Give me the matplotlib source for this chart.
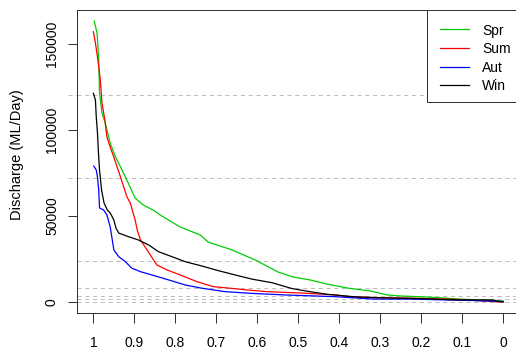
import matplotlib
matplotlib.use('Agg')
import matplotlib.pyplot as plt
from matplotlib.patches import Rectangle
from matplotlib.lines import Line2D

plt.rcParams['font.family'] = ['Liberation Sans', 'DejaVu Sans']
plt.rcParams['lines.scale_dashes'] = False

# ---------------- data ----------------
seasons = ['Spr', 'Sum', 'Aut', 'Win']
colors = ['#00CD00', '#FF0000', '#0000FF', '#000000']

spr_p = [0.998, 0.991, 0.987, 0.985, 0.979, 0.971, 0.959, 0.946, 0.930, 0.915, 0.898, 0.878, 0.854, 0.837,
         0.788, 0.739, 0.720, 0.661, 0.605, 0.549, 0.512, 0.471, 0.429, 0.380, 0.324, 0.283, 0.251, 0.185,
         0.105, 0.0]
spr_q = [163100, 156100, 140500, 121300, 109700, 103900, 92300, 84200, 76600, 69100, 60300, 56300, 53300,
         50500, 43500, 38900, 34800, 30200, 24400, 17400, 14500, 12800, 10400, 8100, 6400, 4100, 3500, 2900,
         1700, 600]

sum_p = [1.000, 0.995, 0.989, 0.983, 0.979, 0.972, 0.967, 0.959, 0.950, 0.934, 0.926, 0.918, 0.910, 0.898,
         0.893, 0.885, 0.869, 0.845, 0.820, 0.788, 0.747, 0.707, 0.666, 0.625, 0.576, 0.490, 0.410, 0.366,
         0.300, 0.234, 0.171, 0.122, 0.056, 0.015, 0.0]
sum_q = [156900, 150300, 140500, 128900, 115500, 105600, 95800, 90000, 84000, 72700, 66900, 61000, 57500,
         47600, 41800, 36000, 30200, 21500, 18600, 15700, 11800, 8900, 8000, 7000, 6000, 5200, 4100, 2900,
         2500, 2300, 1900, 1600, 750, 100, 100]

aut_p = [0.999, 0.993, 0.990, 0.987, 0.985, 0.975, 0.967, 0.959, 0.950, 0.938, 0.922, 0.906, 0.885, 0.857,
         0.816, 0.776, 0.735, 0.678, 0.613, 0.532, 0.410, 0.317, 0.227, 0.137, 0.080, 0.0]
aut_q = [78900, 76600, 72500, 65000, 54600, 53400, 50500, 43700, 30200, 26300, 23400, 19600, 17600, 15700,
         12800, 9900, 8000, 6000, 5000, 4100, 3100, 1700, 1700, 1200, 900, 300]

win_p = [1.000, 0.995, 0.993, 0.990, 0.988, 0.985, 0.980, 0.974, 0.966, 0.959, 0.950, 0.945, 0.938, 0.914,
         0.890, 0.865, 0.841, 0.808, 0.776, 0.735, 0.695, 0.654, 0.613, 0.564, 0.515, 0.471, 0.430, 0.366,
         0.308, 0.227, 0.171, 0.105, 0.024, 0.012, 0.0]
win_q = [121100, 117200, 107500, 98100, 88200, 76600, 65000, 57500, 53400, 51700, 47600, 43000, 40000,
         37900, 36000, 33100, 29200, 26300, 23400, 20900, 18200, 15700, 13300, 11200, 7800, 6000, 4500, 3100,
         2500, 2100, 1700, 1200, 1200, 400, 0]

ref_levels = [120000, 72000, 24000, 8000, 3300, 1500, 200]
ext_levels = [120000, 72000]

x_ticks = [1.0, 0.9, 0.8, 0.7, 0.6, 0.5, 0.4, 0.3, 0.2, 0.1, 0.0]
x_tick_labels = ['1', '0.9', '0.8', '0.7', '0.6', '0.5', '0.4', '0.3', '0.2', '0.1', '0']
y_ticks = [0, 50000, 100000, 150000]
y_tick_labels = ['0', '50000', '100000', '150000']
y_label = 'Discharge (ML/Day)'

# ---------------- layout ----------------
W, H, DPI = 516, 354, 100
fig = plt.figure(figsize=(W / DPI, H / DPI), dpi=DPI)


def fx(px):
    return px / W


def fy(py):
    return 1 - py / H


ax_l, ax_r, ax_t, ax_b = 77, 519.4, 10, 313
ax = fig.add_axes([fx(ax_l), fy(ax_b), fx(ax_r - ax_l), (ax_b - ax_t) / H])
ax.set_xlim(1.04, -0.04)
ax.set_ylim(-6380, 169500)

lw_px = 0.72
grey = '#BEBEBE'
for v in ref_levels:
    ax.axhline(v, color=grey, lw=lw_px, linestyle=(0, (3.0, 2.6)), zorder=1)
for v in ext_levels:
    ax.plot([1.063, 1.04], [v, v], color=grey, lw=lw_px, linestyle=(0, (3.0, 2.6)), clip_on=False, zorder=1)

series = [(spr_p, spr_q), (sum_p, sum_q), (aut_p, aut_q), (win_p, win_q)]
for (p, q), c in zip(series, colors):
    ax.plot(p, q, color=c, lw=0.9, zorder=3)

ax.set_xticks(x_ticks)
ax.set_xticklabels(x_tick_labels)
ax.set_yticks(y_ticks)
ax.set_yticklabels(y_tick_labels, rotation=90, va='center')
ax.tick_params(axis='x', length=7.2, width=0.72, pad=9.5, labelsize=10, color='#333333')
ax.tick_params(axis='y', length=6.5, width=0.72, pad=6.5, labelsize=10, color='#333333')
for s in ax.spines.values():
    s.set_linewidth(0.72)
    s.set_color('#333333')

fig.text(fx(17), fy(155), y_label, rotation=90, ha='center', va='center', fontsize=10.5)

# legend (manual, R style)
leg_l, leg_b = 426.5, 102.3
fig.add_artist(Rectangle((fx(leg_l), fy(leg_b)), fx(ax_r - leg_l), (leg_b - ax_t) / H,
                         transform=fig.transFigure, facecolor='white', edgecolor='#333333',
                         lw=0.72, zorder=5))
row_y = [29, 47.5, 66.5, 85]
for name, c, yy in zip(seasons, colors, row_y):
    fig.add_artist(Line2D([fx(440), fx(469)], [fy(yy), fy(yy)], transform=fig.transFigure,
                          color=c, lw=0.9, zorder=6))
    fig.text(fx(482), fy(yy + 1.5), name, ha='left', va='center', fontsize=10, zorder=7)

fig.savefig('out.png', dpi=DPI)
